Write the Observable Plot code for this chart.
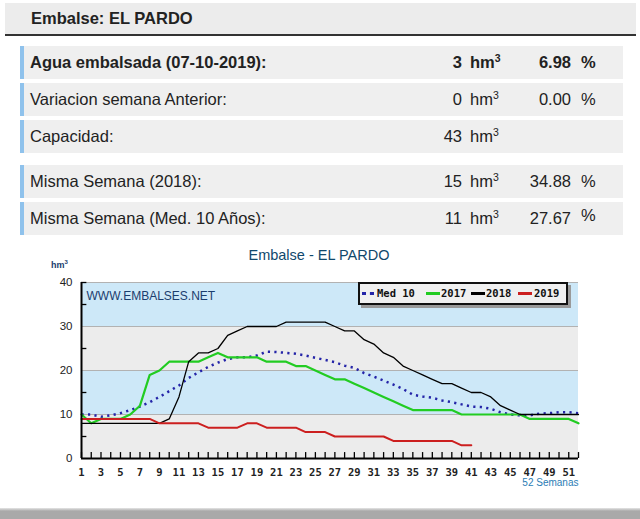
<!DOCTYPE html>
<html><head><meta charset="utf-8">
<script src="https://cdn.jsdelivr.net/npm/d3@7"></script>
<script src="https://cdn.jsdelivr.net/npm/@observablehq/plot@0.6"></script>
<style>
body{margin:0;background:#fff;font-family:"Liberation Sans",Arial,sans-serif;}
#page{position:relative;width:640px;height:519px;overflow:hidden;background:#fff;}
.hdr{position:absolute;left:5px;top:3px;width:631px;height:31px;background:#ececec;border-bottom:2px solid #333;}
.hdr span{position:absolute;left:26px;top:6px;font-weight:bold;font-size:16.5px;color:#222;}
.row{position:absolute;left:20px;width:603px;height:33px;background:#efefef;border-left:4px solid #8fc2ec;box-sizing:border-box;font-size:16.5px;color:#222;}
.row div{position:absolute;top:7px;line-height:19px;white-space:nowrap;}
.row .lbl{left:6px;}
.row .vol{left:0;width:438px;text-align:right;}
.row .unit{left:446px;}
.row .pct{left:0;width:547px;text-align:right;}
.row .pc{left:557px;}
.row sup{font-size:10.5px;vertical-align:top;position:relative;top:-4px;}
.row.b{font-weight:bold;}
#ctitle{position:absolute;left:0;top:247px;width:638px;text-align:center;font-size:14.5px;color:#10486c;}
#hm{position:absolute;left:51px;top:259px;font-size:9px;font-weight:bold;color:#1b3d6e;}
#hm sup{font-size:6px;}
#chart{position:absolute;left:0;top:240px;}
#legend{position:absolute;left:358px;top:282px;width:210px;height:23px;box-sizing:border-box;border:2px solid #111;background:#f0f0f0;box-shadow:3px 3px 0 #9a9a9a;font-family:"DejaVu Sans Mono",monospace;font-weight:bold;font-size:10.5px;color:#111;}
#legend .sw{position:absolute;top:8px;width:14px;height:0;border-top:3px solid;}
#legend .tx{position:absolute;top:3px;line-height:13px;}
#bottom{position:absolute;left:0;top:508px;width:640px;height:11px;background:linear-gradient(#e6e6e6,#a9a9a9 3px);}
</style></head>
<body><div id="page">
<div class="hdr"><span>Embalse: EL PARDO</span></div>
<div id="rows"></div>
<div id="chart"></div>
<div id="ctitle">Embalse - EL PARDO</div>
<div id="hm">hm<sup>3</sup></div>
<div id="legend"></div>
<div id="bottom"></div>
</div>
<script>
// ---- info table ----
const rowLabels = ["Agua embalsada (07-10-2019):", "Variacion semana Anterior:", "Capacidad:", "Misma Semana (2018):", "Misma Semana (Med. 10 Años):"];
const rowVolumes = [3, 0, 43, 15, 11];
const rowPercents = ["6.98", "0.00", null, "34.88", "27.67"];

// ---- chart data ----
const weeks = [1,2,3,4,5,6,7,8,9,10,11,12,13,14,15,16,17,18,19,20,21,22,23,24,25,26,27,28,29,30,31,32,33,34,35,36,37,38,39,40,41,42,43,44,45,46,47,48,49,50,51,52];
const med10 = [10,10,9.5,9.8,10.3,11,11.8,12.8,14,15.3, 16.6,18.3,19.6,20.8,21.8,22.6,23,23,23.4,24.3, 24.2,24,23.8,23.4,22.9,22.4,21.9,21.1,20.6,19.4, 18.6,17.7,16.8,15.8,14.5,14.1,13.8,13.2,12.8,12.3, 11.8,11.7,11.3,10.5,10,9.8,9.8,10.2,10.3,10.5, 10.5,10.3];
const s2017 = [10,8,9,9,9,10,12,19,20,22, 22,22,22,23,24,23,23,23,23,22, 22,22,21,21,20,19,18,18,17,16, 15,14,13,12,11,11,11,11,11,10, 10,10,10,10,10,10,9,9,9,9, 9,8];
const s2018 = [8,8,8,8,8,8,8,8,8,9, 14,22,24,24,25,28,29,30,30,30, 30,31,31,31,31,31,30,29,29,27, 26,24,23,21,20,19,18,17,17,16, 15,15,14,12,11,10,10,10,10,10, 10,10];
const s2019 = [9,9,9,9,9,9,9,9,8,8, 8,8,8,7,7,7,7,8,8,7, 7,7,7,6,6,6,5,5,5,5, 5,5,4,4,4,4,4,4,4,3, 3];
const seriesNames = ["Med 10", "2017", "2018", "2019"];
const yTicks = [0, 10, 20, 30, 40];
const xTickLabels = [1,3,5,7,9,11,13,15,17,19,21,23,25,27,29,31,33,35,37,39,41,43,45,47,49,51];
const minorYTicks = [5, 15, 25, 35, 40];

// ---- build table ----
const rowsEl = document.getElementById("rows");
rowLabels.forEach((lab, i) => {
  const top = 46 + i * 37 + (i >= 3 ? 8 : 0);
  const r = document.createElement("div");
  r.className = "row" + (i === 0 ? " b" : "");
  r.style.top = top + "px";
  let html = `<div class="lbl">${lab}</div><div class="vol">${rowVolumes[i]}</div><div class="unit">hm<sup>3</sup></div>`;
  if (rowPercents[i] !== null) {
    html += `<div class="pct">${rowPercents[i]}</div><div class="pc"${i === 4 ? ' style="top:4px"' : ''}>%</div>`;
  }
  r.innerHTML = html;
  rowsEl.appendChild(r);
});

// ---- chart ----
const colors = {"Med 10": "#2424a8", "2017": "#22cc22", "2018": "#000000", "2019": "#cc1f1f"};
const table = weeks.map((w, i) => ({week: w, med10: med10[i], s2017: s2017[i], s2018: s2018[i], s2019: i < s2019.length ? s2019[i] : null}));
const bands = d3.pairs(yTicks).map(([lo, hi], i) => ({lo, hi, i}));

const chart = Plot.plot({
  width: 640, height: 279,
  marginLeft: 81, marginRight: 62, marginTop: 42, marginBottom: 61,
  x: {domain: [1, 52], axis: null},
  y: {domain: [0, 40], axis: null},
  color: {type: "identity"},
  style: {background: "transparent", overflow: "visible"},
  marks: [
    Plot.rect(bands, {x1: 1, x2: 52, y1: "lo", y2: "hi", fill: d => d.i % 2 ? "#cde8f8" : "#ececec"}),
    Plot.ruleY(yTicks.slice(1), {stroke: "#b2b2b2", strokeWidth: 1}),
    Plot.text(["WWW.EMBALSES.NET"], {frameAnchor: "top-left", dx: 5, dy: 9, textAnchor: "start", fill: "#1b3d6e", fontSize: 12, fontFamily: "Liberation Sans, Arial, sans-serif"}),
    Plot.line(table, {x: "week", y: "med10", stroke: colors["Med 10"], strokeWidth: 2.5, strokeDasharray: "2.2,4.3", strokeLinecap: "butt"}),
    Plot.line(table, {x: "week", y: "s2017", stroke: colors["2017"], strokeWidth: 2.2}),
    Plot.line(table, {x: "week", y: "s2018", stroke: colors["2018"], strokeWidth: 1.3}),
    Plot.line(table.filter(d => d.s2019 !== null), {x: "week", y: "s2019", stroke: colors["2019"], strokeWidth: 2}),
    Plot.ruleX(weeks, {y1: 0, y2: 1.35, stroke: "#000", strokeWidth: 1.3}),
    Plot.ruleY(minorYTicks, {x1: 1, x2: 1.55, stroke: "#000", strokeWidth: 1.3}),
    Plot.ruleX([1], {y1: 0, y2: 40, stroke: "#000", strokeWidth: 2}),
    Plot.ruleY([0], {x1: 1, x2: 52, stroke: "#000", strokeWidth: 2}),
    Plot.text(yTicks, {x: 1, y: d => d, dx: -9, textAnchor: "end", fill: "#222", fontSize: 11.5, fontFamily: "Liberation Sans, Arial, sans-serif"}),
    Plot.text(xTickLabels, {x: d => d, y: 0, dy: 14, textAnchor: "middle", fill: "#222", fontSize: 10.5, fontWeight: "bold", fontFamily: "DejaVu Sans Mono, monospace"}),
    Plot.text(["52 Semanas"], {x: 52, y: 0, dy: 24, textAnchor: "end", fill: "#2b7db5", fontSize: 10, fontFamily: "Liberation Sans, Arial, sans-serif"})
  ]
});
document.getElementById("chart").appendChild(chart);

// ---- legend ----
const legend = document.getElementById("legend");
const legPos = [[2, 17], [66, 81], [111, 126], [158, 174]];
seriesNames.forEach((name, i) => {
  const sw = document.createElement("div");
  sw.className = "sw";
  sw.style.left = legPos[i][0] + "px";
  sw.style.color = colors[name];
  if (name === "Med 10") { sw.style.borderTop = "3px dotted " + colors[name]; sw.style.width = "12px"; }
  const tx = document.createElement("div");
  tx.className = "tx";
  tx.style.left = legPos[i][1] + "px";
  tx.textContent = name;
  legend.appendChild(sw);
  legend.appendChild(tx);
});
</script>
</body></html>
